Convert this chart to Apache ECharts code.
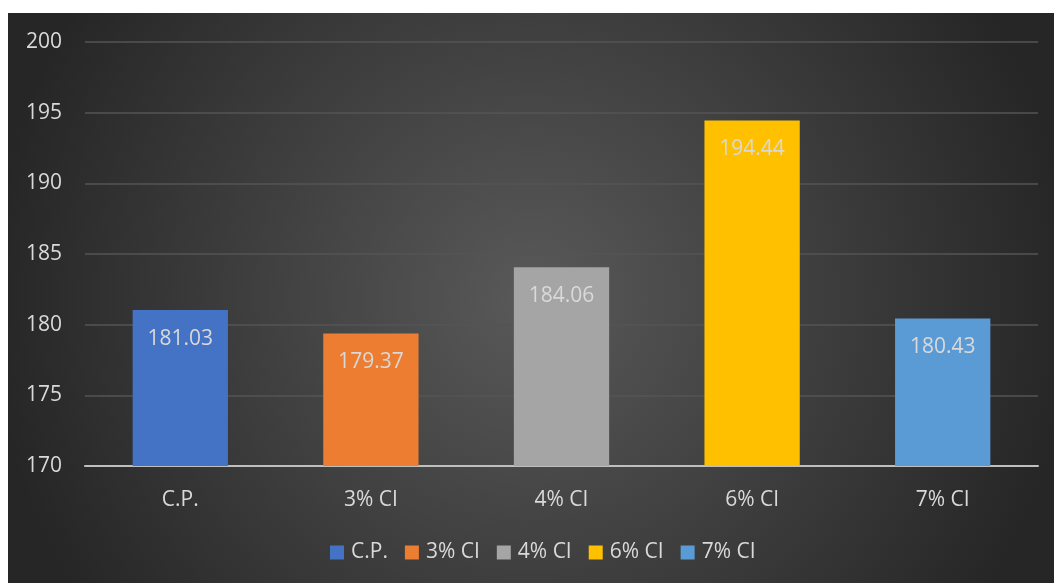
<!DOCTYPE html>
<html>
<head>
<meta charset="utf-8">
<script src="https://cdn.jsdelivr.net/npm/echarts@6/dist/echarts.min.js"></script>
<style>
  html, body { margin: 0; padding: 0; background: #ffffff; width: 1054px; height: 583px; overflow: hidden; }
  #chart { position: absolute; left: 8px; top: 13px; width: 1046px; height: 570px; }
</style>
</head>
<body>
<div id="chart"></div>
<script>
// Categories and their values
const categories = ['C.P.', '3% CI', '4% CI', '6% CI', '7% CI'];
const values = [181.03, 179.37, 184.06, 194.44, 180.43];
const colors = ['#4472C4', '#ED7D31', '#A5A5A5', '#FFC000', '#5B9BD5'];
const yTicks = { min: 170, max: 200, interval: 5 };

const textColor = '#d9d9d9';
const fontFamily = '"Open Sans", Lato, sans-serif';

// One series per category so each gets its own legend entry; stacking keeps bars centered
const series = categories.map((name, i) => ({
  name: name,
  type: 'bar',
  stack: 'all',
  barWidth: '50%',
  itemStyle: { color: colors[i] },
  data: categories.map((c, j) => (j === i ? values[i] : '-')),
  label: {
    show: true,
    position: 'insideTop',
    distance: 18,
    color: textColor,
    fontSize: 21,
    fontFamily: fontFamily,
    formatter: p => p.value.toFixed(2)
  }
}));

const chart = echarts.init(document.getElementById('chart'));
chart.setOption({
  backgroundColor: {
    type: 'radial', x: 0.5, y: 0.5, r: 0.95,
    colorStops: [
      { offset: 0, color: '#595959' },
      { offset: 1, color: '#262626' }
    ]
  },
  animation: false,
  color: colors,
  grid: { left: 77, right: 16, top: 29, bottom: 117, containLabel: false },
  xAxis: {
    type: 'category',
    data: categories,
    axisTick: { show: false },
    axisLine: { lineStyle: { color: '#bfbfbf', width: 2 } },
    axisLabel: { color: textColor, fontSize: 21, fontFamily: fontFamily, margin: 24 }
  },
  yAxis: {
    type: 'value',
    min: yTicks.min,
    max: yTicks.max,
    interval: yTicks.interval,
    axisLine: { show: false },
    axisTick: { show: false },
    axisLabel: { color: textColor, fontSize: 21, fontFamily: fontFamily, margin: 23 },
    splitLine: { lineStyle: { color: '#555555', width: 1.5 } }
  },
  legend: {
    data: categories,
    bottom: 15,
    left: 317,
    icon: 'rect',
    itemWidth: 14,
    itemHeight: 14,
    itemGap: 17,
    textStyle: { color: textColor, fontSize: 21, fontFamily: fontFamily, padding: [0, 0, 0, 2] }
  },
  series: series
});
</script>
</body>
</html>
